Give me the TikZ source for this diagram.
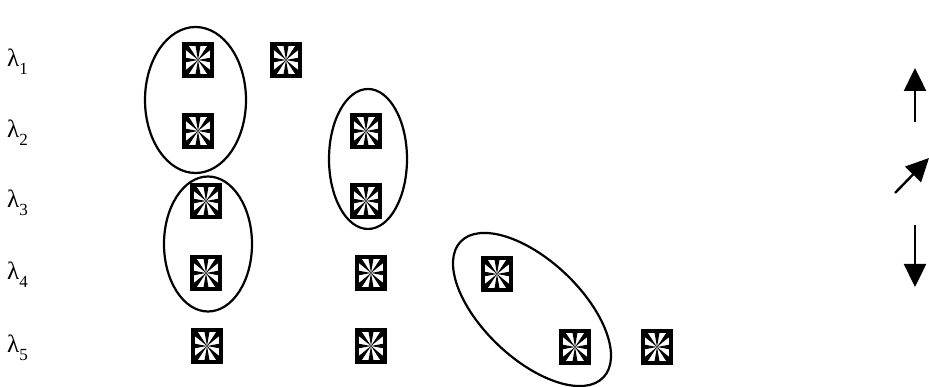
\documentclass[tikz,border=0pt]{standalone}
\usepackage{fontspec}
\setmainfont{Liberation Serif}
\usetikzlibrary{shapes.geometric,arrows.meta}
\tikzset{
  cell/.style={draw, line width=3.2pt, fill=white, minimum width=28pt, minimum height=32pt, inner sep=0pt,
    path picture={
      \begin{scope}[shift={(path picture bounding box.center)}]
        \fill[black] (0,0) -- (-2.8,16) -- (2.8,16) -- cycle;
        \fill[black] (0,0) -- (-2.8,-16) -- (2.8,-16) -- cycle;
        \fill[black] (0,0) -- (-14,2.6) -- (-14,-2.6) -- cycle;
        \fill[black] (0,0) -- (14,2.6) -- (14,-2.6) -- cycle;
        \fill[black] (0,0) -- (-14,11.5) -- (-14,16) -- (-10.5,16) -- cycle;
        \fill[black] (0,0) -- (14,11.5) -- (14,16) -- (10.5,16) -- cycle;
        \fill[black] (0,0) -- (-14,-11.5) -- (-14,-16) -- (-10.5,-16) -- cycle;
        \fill[black] (0,0) -- (14,-11.5) -- (14,-16) -- (10.5,-16) -- cycle;
      \end{scope}
    }},
  group/.style={draw, ellipse, line width=2.2pt, inner sep=0pt},
  lab/.style={anchor=base west, inner sep=0pt, font=\fontsize{25}{25}\selectfont},
  dir/.style={line width=2.4pt, -{Triangle[width=22pt,length=23pt]}}
}
\newcommand{\lam}[1]{λ\raisebox{-0.3em}{\fontsize{17}{17}\selectfont #1}}
\begin{document}
\begin{tikzpicture}[x=1pt,y=1pt]
\useasboundingbox (0,0) rectangle (929,387);
% labels
\node[lab] (l1) at (7,320) {\lam{1}};
\node[lab] (l2) at (7,249) {\lam{2}};
\node[lab] (l3) at (7,179) {\lam{3}};
\node[lab] (l4) at (7,107) {\lam{4}};
\node[lab] (l5) at (7,34) {\lam{5}};
% groups
\node[group, minimum width=101pt, minimum height=146pt] (e1) at (195.5,287) {};
\node[group, minimum width=78pt, minimum height=140pt] (e2) at (368,228) {};
\node[group, minimum width=88pt, minimum height=135pt] (e3) at (208,143) {};
\node[group, minimum width=197pt, minimum height=98pt, rotate=-43.5] (e4) at (532,77.5) {};
% cells
\node[cell] (a11) at (198,327) {};
\node[cell] (a12) at (286,327) {};
\node[cell] (a21) at (198,256) {};
\node[cell] (a23) at (366,256) {};
\node[cell] (a31) at (206,186) {};
\node[cell] (a33) at (366,186) {};
\node[cell] (a41) at (206,114) {};
\node[cell] (a43) at (371,114) {};
\node[cell] (a44) at (497,113) {};
\node[cell] (a51) at (207,41) {};
\node[cell] (a53) at (371,41) {};
\node[cell] (a55) at (575,40) {};
\node[cell] (a56) at (657,40) {};
% direction arrows
\coordinate (u0) at (915,265); \coordinate (u1) at (915,319);
\coordinate (d0) at (895,194); \coordinate (d1) at (929,229);
\coordinate (w0) at (915,162); \coordinate (w1) at (915,100);
\draw[dir] (u0) -- (u1);
\draw[dir] (d0) -- (d1);
\draw[dir] (w0) -- (w1);
\end{tikzpicture}
\end{document}
